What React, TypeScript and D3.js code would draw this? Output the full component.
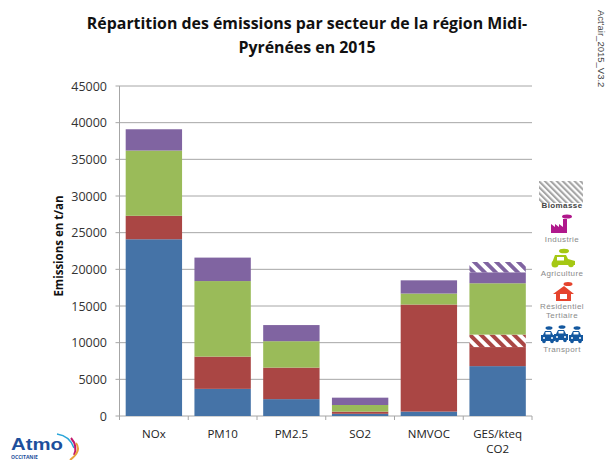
import React from "react";
import * as d3 from "d3";

const categories = ["NOx", "PM10", "PM2.5", "SO2", "NMVOC", "GES/kteq|CO2"];
const transport = [24100, 3700, 2300, 300, 600, 6800];
const residentiel = [3200, 4400, 4300, 300, 14600, 2600];
const residentielBois = [0, 0, 0, 0, 0, 1700];
const agriculture = [8900, 10300, 3600, 900, 1500, 7000];
const industrie = [2900, 3200, 2200, 1000, 1800, 1500];
const industrieBois = [0, 0, 0, 0, 0, 1400];
const yTicks = [0, 5000, 10000, 15000, 20000, 25000, 30000, 35000, 40000, 45000];

const layers = [
  { values: transport, fill: "#4573a7" },
  { values: residentiel, fill: "#aa4644" },
  { values: residentielBois, fill: "url(#hatchRed)" },
  { values: agriculture, fill: "#9abb59" },
  { values: industrie, fill: "#8064a1" },
  { values: industrieBois, fill: "url(#hatchPurple)" },
];

const W = 607, H = 460;
const font = "'Open Sans', 'Liberation Sans', sans-serif";
const legendFont = "'Liberation Sans', sans-serif";

function Hatch({ id, color, size = 7.8, bg = "#fff" }: { id: string; color: string; size?: number; bg?: string }) {
  return (
    <pattern id={id} width={size} height={size} patternUnits="userSpaceOnUse" patternTransform="rotate(-45)">
      <rect width={size} height={size} fill={bg} />
      <rect width={size / 2} height={size} fill={color} />
    </pattern>
  );
}

function Car({ x, y, c }: { x: number; y: number; c: string }) {
  return (
    <g transform={`translate(${x},${y})`} fill={c}>
      <path d="M-5 -3 L-3 -7 H3 L5 -3 H7 V3 H-7 V-3 Z" />
      <rect x="-2.5" y="-6" width="5" height="2.5" fill="#fff" />
      <circle cx="-4" cy="3.5" r="1.8" />
      <circle cx="4" cy="3.5" r="1.8" />
      <circle cx="-4" cy="0" r="1" fill="#fff" />
      <circle cx="4" cy="0" r="1" fill="#fff" />
      <ellipse cx="1" cy="-10" rx="3.5" ry="1.8" />
    </g>
  );
}

function LegendText({ y, children, color = "#8a8a8a", weight = 400 }: { y: number; children: string; color?: string; weight?: number }) {
  return (
    <text x={562} y={y} textAnchor="middle" fontSize={8} letterSpacing={0.4} fill={color} fontWeight={weight} fontFamily={legendFont}>
      {children}
    </text>
  );
}

export default function App() {
  const y = d3.scaleLinear().domain([0, 45000]).range([416, 86]);
  const x = d3.scaleBand<string>().domain(categories).range([119.5, 532]).paddingInner(0.18).paddingOuter(0.09);
  const outer = d3.scaleBand<string>().domain(categories).range([119.5, 532]);

  return (
    <svg width={W} height={H} style={{ position: "absolute", left: 0, top: 0, background: "#fff" }} fontFamily={font}>
      <defs>
        <Hatch id="hatchRed" color="#aa4644" />
        <Hatch id="hatchPurple" color="#8064a1" />
        <Hatch id="hatchGrey" color="#a6a6a6" size={4.2} />
      </defs>

      <text x={307} y={29} textAnchor="middle" fontSize={15.9} fontWeight={700} fill="#111">Répartition des émissions par secteur de la région Midi-</text>
      <text x={307} y={53} textAnchor="middle" fontSize={15.9} fontWeight={700} fill="#111">Pyrénées en 2015</text>

      {yTicks.map((t) => (
        <g key={t}>
          <line x1={115.5} x2={532} y1={y(t)} y2={y(t)} stroke="#a6a6a6" strokeWidth={1} />
          <text x={107} y={y(t) + 4.5} textAnchor="end" fontSize={12.5} fill="#333">{t}</text>
        </g>
      ))}
      <line x1={119.5} x2={119.5} y1={y(45000)} y2={420} stroke="#a6a6a6" strokeWidth={1} />
      {categories.map((c) => (
        <line key={c} x1={outer(c)! + outer.bandwidth()} x2={outer(c)! + outer.bandwidth()} y1={416} y2={420} stroke="#a6a6a6" />
      ))}

      {categories.map((c, i) => {
        let acc = 0;
        return (
          <g key={c}>
            {layers.map((l, j) => {
              const v = l.values[i];
              const y0 = y(acc), y1 = y(acc + v);
              acc += v;
              return v > 0 ? <rect key={j} x={x(c)} width={x.bandwidth()} y={y1} height={y0 - y1} fill={l.fill} /> : null;
            })}
            {c.split("|").map((s, k) => (
              <text key={k} x={outer(c)! + outer.bandwidth() / 2} y={438 + k * 15} textAnchor="middle" fontSize={11.5} fill="#222">{s}</text>
            ))}
          </g>
        );
      })}

      <text transform="translate(63,246) rotate(-90)" textAnchor="middle" fontSize={11.5} fontWeight={700} fill="#111">Emissions en t/an</text>

      <text transform="translate(598,10) rotate(90)" fontSize={9.5} fill="#444" fontFamily={legendFont}>Act'air_2015_V3.2</text>

      {/* Legend */}
      <rect x={539} y={181} width={44} height={22} fill="url(#hatchGrey)" />
      <LegendText y={208} color="#444" weight={700}>Biomasse</LegendText>

      <g fill="#b0188c">
        <path d="M551 233 V224 L555 227 V224 L559 227 V224 L563 227 V219 H567 V233 Z" />
        <ellipse cx={567} cy={216.5} rx={5} ry={2} />
      </g>
      <LegendText y={242}>Industrie</LegendText>

      <g fill="#a5c814">
        <path d="M552 263 L555 255 H566 L568 259 L575 261 V265 H552 Z" />
        <rect x={557} y={257} width={7} height={3.5} fill="#fff" />
        <circle cx={555} cy={264} r={3.5} />
        <circle cx={571} cy={264.5} r={2.8} />
        <ellipse cx={564} cy={251} rx={5} ry={2.3} />
      </g>
      <LegendText y={276}>Agriculture</LegendText>

      <g fill="#e5432d">
        <path d="M556 301 V294 H553 L564 286 L574 294 H571 V301 Z" />
        <rect x={560} y={294} width={7} height={5} fill="#fff" />
        <ellipse cx={568} cy={284} rx={4.5} ry={2} />
      </g>
      <LegendText y={309}>Résidentiel</LegendText>
      <LegendText y={318}>Tertiaire</LegendText>

      <Car x={548} y={338} c="#14589f" />
      <Car x={561} y={337} c="#14589f" />
      <Car x={576} y={338} c="#14589f" />
      <LegendText y={352}>Transport</LegendText>

      {/* Logo */}
      <text x={11} y={450} fontSize={17} fontWeight={700} fill="#1d4f9c" fontFamily={legendFont} textLength={52} lengthAdjust="spacingAndGlyphs">Atmo</text>
      <text x={11} y={458.5} fontSize={5} fontWeight={700} fill="#1d4f9c">OCCITANIE</text>
      <path d="M57 434 Q70 436 74 448" fill="none" stroke="#29a5d8" strokeWidth={1.5} />
      <path d="M71 438 Q78 446 74 455" fill="none" stroke="#c2186b" strokeWidth={2} />
      <path d="M76 443 Q82 451 70 460" fill="none" stroke="#e9a23b" strokeWidth={2} />
    </svg>
  );
}
